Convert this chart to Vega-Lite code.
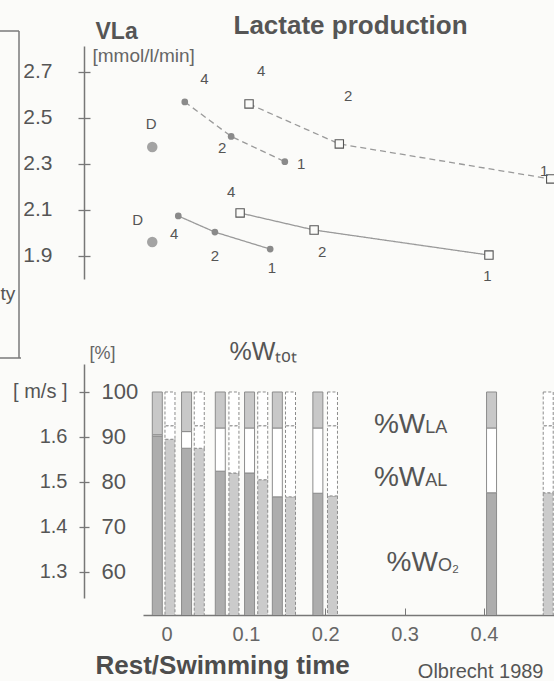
{
  "$schema": "https://vega.github.io/schema/vega-lite/v6.json",
  "padding": {"left": 0, "top": 12, "right": 0, "bottom": 0},
  "background": "#fbfbf9",
  "config": {
    "view": {"stroke": null},
    "font": "Liberation Sans",
    "axis": {"grid": false, "labelFont": "Liberation Sans", "titleFont": "Liberation Sans"}
  },
  "datasets": {
    "pts": [
      {"level": "upper", "marker": "filled", "t": 0.028, "vla": 2.57},
      {"level": "upper", "marker": "filled", "t": 0.085, "vla": 2.42},
      {"level": "upper", "marker": "filled", "t": 0.151, "vla": 2.31},
      {"level": "upper", "marker": "square", "t": 0.107, "vla": 2.561},
      {"level": "upper", "marker": "square", "t": 0.218, "vla": 2.387},
      {"level": "upper", "marker": "square", "t": 0.478, "vla": 2.235},
      {"level": "upper", "marker": "D", "t": -0.012, "vla": 2.374},
      {"level": "lower", "marker": "filled", "t": 0.020, "vla": 2.074},
      {"level": "lower", "marker": "filled", "t": 0.065, "vla": 2.004},
      {"level": "lower", "marker": "filled", "t": 0.133, "vla": 1.93},
      {"level": "lower", "marker": "square", "t": 0.096, "vla": 2.087},
      {"level": "lower", "marker": "square", "t": 0.187, "vla": 2.013},
      {"level": "lower", "marker": "square", "t": 0.402, "vla": 1.904},
      {"level": "lower", "marker": "D", "t": -0.012, "vla": 1.961}
    ],
    "lbl": [
      {"txt": "4", "t": 0.052, "vla": 2.67},
      {"txt": "2", "t": 0.074, "vla": 2.37},
      {"txt": "1", "t": 0.171, "vla": 2.30},
      {"txt": "D", "t": -0.0135, "vla": 2.474},
      {"txt": "4", "t": 0.122, "vla": 2.704},
      {"txt": "2", "t": 0.229, "vla": 2.596},
      {"txt": "1", "t": 0.470, "vla": 2.27},
      {"txt": "4", "t": 0.015, "vla": 1.996},
      {"txt": "2", "t": 0.065, "vla": 1.90},
      {"txt": "1", "t": 0.135, "vla": 1.848},
      {"txt": "D", "t": -0.030, "vla": 2.057},
      {"txt": "4", "t": 0.085, "vla": 2.178},
      {"txt": "2", "t": 0.197, "vla": 1.917},
      {"txt": "1", "t": 0.400, "vla": 1.813}
    ],
    "bars": [
      {"set": "I", "t": -0.0117, "comp": "O2", "seg": 1, "pct": 90.2},
      {"set": "I", "t": -0.0117, "comp": "AL", "seg": 2, "pct": 0.3},
      {"set": "I", "t": -0.0117, "comp": "LA", "seg": 3, "pct": 9.5},
      {"set": "I", "t": 0.0252, "comp": "O2", "seg": 1, "pct": 87.5},
      {"set": "I", "t": 0.0252, "comp": "AL", "seg": 2, "pct": 3.7},
      {"set": "I", "t": 0.0252, "comp": "LA", "seg": 3, "pct": 8.8},
      {"set": "I", "t": 0.0677, "comp": "O2", "seg": 1, "pct": 82.4},
      {"set": "I", "t": 0.0677, "comp": "AL", "seg": 2, "pct": 9.6},
      {"set": "I", "t": 0.0677, "comp": "LA", "seg": 3, "pct": 8.0},
      {"set": "I", "t": 0.1046, "comp": "O2", "seg": 1, "pct": 82.0},
      {"set": "I", "t": 0.1046, "comp": "AL", "seg": 2, "pct": 10.0},
      {"set": "I", "t": 0.1046, "comp": "LA", "seg": 3, "pct": 8.0},
      {"set": "I", "t": 0.1396, "comp": "O2", "seg": 1, "pct": 76.7},
      {"set": "I", "t": 0.1396, "comp": "AL", "seg": 2, "pct": 15.3},
      {"set": "I", "t": 0.1396, "comp": "LA", "seg": 3, "pct": 8.0},
      {"set": "I", "t": 0.1907, "comp": "O2", "seg": 1, "pct": 77.5},
      {"set": "I", "t": 0.1907, "comp": "AL", "seg": 2, "pct": 14.5},
      {"set": "I", "t": 0.1907, "comp": "LA", "seg": 3, "pct": 8.0},
      {"set": "I", "t": 0.4096, "comp": "O2", "seg": 1, "pct": 77.6},
      {"set": "I", "t": 0.4096, "comp": "AL", "seg": 2, "pct": 14.4},
      {"set": "I", "t": 0.4096, "comp": "LA", "seg": 3, "pct": 8.0},
      {"set": "II", "t": 0.0043, "comp": "O2", "seg": 1, "pct": 89.5},
      {"set": "II", "t": 0.0043, "comp": "AL", "seg": 2, "pct": 3.0},
      {"set": "II", "t": 0.0043, "comp": "LA", "seg": 3, "pct": 7.5},
      {"set": "II", "t": 0.0412, "comp": "O2", "seg": 1, "pct": 87.5},
      {"set": "II", "t": 0.0412, "comp": "AL", "seg": 2, "pct": 5.0},
      {"set": "II", "t": 0.0412, "comp": "LA", "seg": 3, "pct": 7.5},
      {"set": "II", "t": 0.0849, "comp": "O2", "seg": 1, "pct": 82.0},
      {"set": "II", "t": 0.0849, "comp": "AL", "seg": 2, "pct": 10.5},
      {"set": "II", "t": 0.0849, "comp": "LA", "seg": 3, "pct": 7.5},
      {"set": "II", "t": 0.1212, "comp": "O2", "seg": 1, "pct": 80.5},
      {"set": "II", "t": 0.1212, "comp": "AL", "seg": 2, "pct": 12.0},
      {"set": "II", "t": 0.1212, "comp": "LA", "seg": 3, "pct": 7.5},
      {"set": "II", "t": 0.1562, "comp": "O2", "seg": 1, "pct": 76.7},
      {"set": "II", "t": 0.1562, "comp": "AL", "seg": 2, "pct": 15.8},
      {"set": "II", "t": 0.1562, "comp": "LA", "seg": 3, "pct": 7.5},
      {"set": "II", "t": 0.2091, "comp": "O2", "seg": 1, "pct": 76.9},
      {"set": "II", "t": 0.2091, "comp": "AL", "seg": 2, "pct": 15.6},
      {"set": "II", "t": 0.2091, "comp": "LA", "seg": 3, "pct": 7.5},
      {"set": "II", "t": 0.481, "comp": "O2", "seg": 1, "pct": 77.6},
      {"set": "II", "t": 0.481, "comp": "AL", "seg": 2, "pct": 14.9},
      {"set": "II", "t": 0.481, "comp": "LA", "seg": 3, "pct": 7.5}
    ],
    "ann": [
      {"t": 0.326, "pct": 90.9, "main": "%W", "sub": "LA"},
      {"t": 0.326, "pct": 79.1, "main": "%W", "sub": "AL"},
      {"t": 0.342, "pct": 60.2, "main": "%W", "sub": "O₂"}
    ]
  },
  "spacing": 85,
  "bounds": "flush",
  "resolve": {"scale": {"x": "independent"}},
  "vconcat": [
    {
      "width": 411,
      "height": 233,
      "resolve": {"axis": {"y": "independent", "x": "independent"}},
      "layer": [
        {
          "data": {"name": "pts"},
          "transform": [{"filter": "datum.marker != 'D'"}],
          "mark": {"type": "line", "color": "#9a9a9a", "strokeWidth": 1.3, "clip": true},
          "encoding": {
            "x": {"field": "t", "type": "quantitative", "scale": {"domain": [-0.0234, 0.482]},
              "axis": {"orient": "top", "domain": false, "ticks": false, "labels": false,
                "title": "Lactate production", "titleFontSize": 26, "titleFontWeight": "bold", "titleColor": "#555555",
                "titleX": 207, "titleY": -13, "titleAlign": "center", "titleBaseline": "alphabetic"}},
            "y": {"field": "vla", "type": "quantitative", "scale": {"domain": [1.8, 2.813]},
              "axis": {"orient": "left", "offset": 59, "values": [1.9, 2.1, 2.3, 2.5, 2.7], "format": ".1f",
                "tickSize": 6, "tickColor": "#777777", "tickWidth": 1.3, "domainColor": "#777777", "domainWidth": 1.5,
                "labelPadding": 26, "labelFontSize": 21, "labelColor": "#555555",
                "title": "VLa", "titleFontSize": 23, "titleFontWeight": "bold", "titleColor": "#555555",
                "titleAngle": 0, "titleAlign": "left", "titleBaseline": "alphabetic", "titleX": 11, "titleY": -8}},
            "detail": [{"field": "level"}, {"field": "marker"}],
            "strokeDash": {"field": "level", "type": "nominal", "scale": {"domain": ["upper", "lower"], "range": [[6, 4], [1, 0]]}, "legend": null},
            "order": {"field": "t", "type": "quantitative"}
          }
        },
        {
          "data": {"name": "pts"},
          "transform": [{"filter": "datum.marker == 'filled'"}],
          "mark": {"type": "point", "shape": "circle", "filled": true, "size": 45, "color": "#8a8a8a", "opacity": 1, "clip": true},
          "encoding": {
            "x": {"field": "t", "type": "quantitative", "scale": {"domain": [-0.0234, 0.482]},
              "axis": {"orient": "bottom", "offset": -124, "translate": -124, "values": [-0.0233], "domain": false, "labels": false,
                "tickSize": 327, "tickColor": "#7a7a7a", "tickWidth": 1.5, "title": null}},
            "y": {"field": "vla", "type": "quantitative", "scale": {"domain": [1.8, 2.813]},
              "axis": {"orient": "left", "domain": false, "ticks": false, "labels": false,
                "title": "ty", "titleFontSize": 19, "titleFontWeight": "normal", "titleColor": "#555555",
                "titleAngle": 0, "titleAlign": "left", "titleBaseline": "alphabetic", "titleX": -143, "titleY": 253}}
          }
        },
        {
          "data": {"name": "pts"},
          "transform": [{"filter": "datum.marker == 'square'"}],
          "mark": {"type": "point", "shape": "square", "size": 70, "fill": "#fbfbf9", "stroke": "#555555", "strokeWidth": 1.1, "opacity": 1, "clip": true},
          "encoding": {
            "x": {"field": "t", "type": "quantitative", "scale": {"domain": [-0.0234, 0.482]},
              "axis": {"orient": "top", "offset": -128, "translate": -143, "domain": true, "domainDash": [19, 1000],
                "domainColor": "#7a7a7a", "domainWidth": 1.5, "ticks": false, "labels": false, "title": null}},
            "y": {"field": "vla", "type": "quantitative", "scale": {"domain": [1.8, 2.813]}, "axis": null}
          }
        },
        {
          "data": {"name": "pts"},
          "transform": [{"filter": "datum.marker == 'D'"}],
          "mark": {"type": "point", "shape": "circle", "filled": true, "size": 110, "color": "#a3a3a3", "opacity": 1, "clip": true},
          "encoding": {
            "x": {"field": "t", "type": "quantitative", "scale": {"domain": [-0.0234, 0.482]},
              "axis": {"orient": "top", "offset": -455, "translate": -143, "domain": true, "domainDash": [21, 1000],
                "domainColor": "#7a7a7a", "domainWidth": 1.5, "ticks": false, "labels": false, "title": null}},
            "y": {"field": "vla", "type": "quantitative", "scale": {"domain": [1.8, 2.813]}, "axis": null}
          }
        },
        {
          "data": {"name": "lbl"},
          "mark": {"type": "text", "fontSize": 15, "color": "#555555", "align": "center", "baseline": "middle"},
          "encoding": {
            "x": {"field": "t", "type": "quantitative", "scale": {"domain": [-0.0234, 0.482]}, "axis": null},
            "y": {"field": "vla", "type": "quantitative", "scale": {"domain": [1.8, 2.813]},
              "axis": {"orient": "right", "offset": -470, "values": [1.9, 2.1, 2.3, 2.5, 2.7], "labels": false, "domain": false,
                "tickSize": 6, "tickColor": "#777777", "tickWidth": 1.3,
                "title": "[mmol/l/min]", "titleFontSize": 19, "titleFontWeight": "normal", "titleColor": "#666666",
                "titleAngle": 0, "titleAlign": "left", "titleBaseline": "alphabetic", "titleX": 8, "titleY": 15}},
            "text": {"field": "txt"}
          }
        }
      ]
    },
    {
      "width": 411,
      "height": 251,
      "resolve": {"axis": {"y": "independent", "x": "independent"}},
      "layer": [
        {
          "data": {"name": "bars"},
          "transform": [{"filter": "datum.set == 'I'"}],
          "mark": {"type": "bar", "size": 10, "stroke": "#8c8c8c", "strokeWidth": 1, "clip": true},
          "encoding": {
            "x": {"field": "t", "type": "quantitative", "scale": {"domain": [-0.0234, 0.482]},
              "axis": {"orient": "bottom", "values": [0, 0.1, 0.2, 0.3, 0.4], "format": ".1~f", "labelFlush": false,
                "domainColor": "#777777", "domainWidth": 1.5, "tickColor": "#777777", "tickSize": -7,
                "labelPadding": 16, "labelFontSize": 20, "labelColor": "#666666",
                "title": "Rest/Swimming time", "titleFontSize": 26, "titleFontWeight": "bold", "titleColor": "#4d4d4d",
                "titleX": -48, "titleY": 58, "titleAlign": "left", "titleBaseline": "alphabetic"}},
            "y": {"field": "pct", "type": "quantitative", "stack": "zero", "scale": {"domain": [50.44, 106.22]},
              "axis": {"orient": "left", "offset": 59, "values": [60, 70, 80, 90, 100],
                "labelExpr": "datum.value == 100 ? '[ m/s ]' : format(datum.value / 100 + 0.7, '.1f')",
                "tickSize": 5, "tickColor": "#777777", "tickWidth": 1.3,
                "domainColor": "#777777", "domainWidth": 1.5, "domainDash": [234, 17], "domainDashOffset": 234,
                "labelPadding": 12, "labelFontSize": 20, "labelColor": "#555555",
                "title": "[%]", "titleFontSize": 18, "titleFontWeight": "normal", "titleColor": "#666666",
                "titleAngle": 0, "titleAlign": "left", "titleBaseline": "alphabetic", "titleX": 5, "titleY": -6}},
            "fill": {"field": "comp", "type": "nominal", "scale": {"domain": ["O2", "AL", "LA"], "range": ["#adadad", "#ffffff", "#c8c8c8"]}, "legend": null},
            "order": {"field": "seg", "type": "quantitative"}
          }
        },
        {
          "data": {"name": "bars"},
          "transform": [{"filter": "datum.set == 'II'"}],
          "mark": {"type": "bar", "size": 10, "stroke": "#8c8c8c", "strokeWidth": 1, "strokeDash": [3, 2], "clip": true},
          "encoding": {
            "x": {"field": "t", "type": "quantitative", "scale": {"domain": [-0.0234, 0.482]},
              "axis": {"orient": "top", "domain": false, "ticks": false, "labels": false,
                "title": "Olbrecht 1989", "titleFontSize": 20, "titleFontWeight": "normal", "titleColor": "#555555",
                "titleX": 400, "titleY": 313, "titleAlign": "right", "titleBaseline": "alphabetic"}},
            "y": {"field": "pct", "type": "quantitative", "stack": "zero", "scale": {"domain": [50.44, 106.22]}, "axis": null},
            "detail": {"field": "comp"},
            "fill": {"condition": {"test": "datum.comp == 'O2'", "value": "#cbcbcb"}, "value": "#ffffff"},
            "order": {"field": "seg", "type": "quantitative"}
          }
        },
        {
          "data": {"name": "ann"},
          "mark": {"type": "text", "fontSize": 28, "color": "#555555", "align": "right", "baseline": "alphabetic"},
          "encoding": {
            "x": {"field": "t", "type": "quantitative", "scale": {"domain": [-0.0234, 0.482]}, "axis": null},
            "y": {"field": "pct", "type": "quantitative", "scale": {"domain": [50.44, 106.22]},
              "axis": {"orient": "right", "offset": -470, "values": [60, 70, 80, 90, 100], "domain": false,
                "tickSize": 5, "tickColor": "#777777", "tickWidth": 1.3,
                "labelPadding": 12, "labelFontSize": 22, "labelColor": "#555555",
                "title": "%Wₜₒₜ", "titleFontSize": 25, "titleFontWeight": "normal", "titleColor": "#555555",
                "titleAngle": 0, "titleAlign": "left", "titleBaseline": "alphabetic", "titleX": 145, "titleY": -5}},
            "text": {"field": "main"}
          }
        },
        {
          "data": {"name": "ann"},
          "mark": {"type": "text", "fontSize": 18, "color": "#555555", "align": "left", "baseline": "alphabetic"},
          "encoding": {
            "x": {"field": "t", "type": "quantitative", "scale": {"domain": [-0.0234, 0.482]}, "axis": null},
            "y": {"field": "pct", "type": "quantitative", "scale": {"domain": [50.44, 106.22]}, "axis": null},
            "text": {"field": "sub"}
          }
        }
      ]
    }
  ]
}
